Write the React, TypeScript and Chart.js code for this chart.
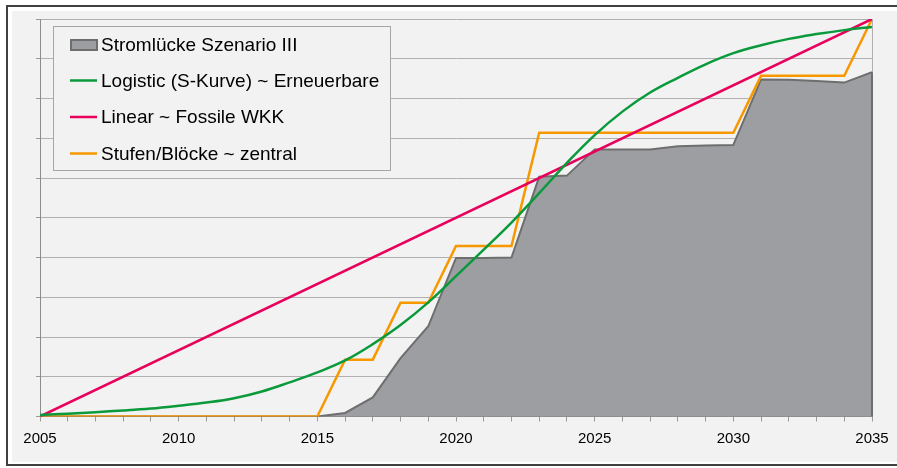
import React, { useEffect, useRef } from "react";
import { Chart, registerables } from "chart.js";

Chart.register(...registerables);

const years = [
  2005, 2006, 2007, 2008, 2009, 2010, 2011, 2012, 2013, 2014, 2015,
  2016, 2017, 2018, 2019, 2020, 2021, 2022, 2023, 2024, 2025,
  2026, 2027, 2028, 2029, 2030, 2031, 2032, 2033, 2034, 2035,
];

const stromluecke = [
  0, 0, 0, 0, 0, 0, 0, 0, 0, 0, 0,
  0.09, 0.48, 1.47, 2.27, 3.99, 3.99, 4.0, 6.03, 6.06, 6.72,
  6.72, 6.72, 6.8, 6.82, 6.83, 8.48, 8.47, 8.44, 8.4, 8.66,
];

const logistic = [
  0.04, 0.07, 0.11, 0.15, 0.2, 0.27, 0.35, 0.46, 0.63, 0.86, 1.11,
  1.41, 1.82, 2.3, 2.87, 3.53, 4.2, 4.88, 5.62, 6.38, 7.08,
  7.67, 8.15, 8.52, 8.86, 9.14, 9.34, 9.5, 9.62, 9.72, 9.8,
];

const linearYears = [2005, 2035];
const linearValues = [0, 10];

const stufen = [
  0, 0, 0, 0, 0, 0, 0, 0, 0, 0, 0,
  1.43, 1.43, 2.86, 2.86, 4.29, 4.29, 4.29, 7.14, 7.14, 7.14,
  7.14, 7.14, 7.14, 7.14, 7.14, 8.57, 8.57, 8.57, 8.57, 10,
];

const seriesLabels = [
  "Stromlücke Szenario III",
  "Logistic (S-Kurve) ~ Erneuerbare",
  "Linear ~ Fossile WKK",
  "Stufen/Blöcke ~ zentral",
];

const GREY_FILL = "#9d9ea2";
const GREY_LINE = "#6e6e6e";
const GREEN = "#0a9a3c";
const RED = "#e8005a";
const ORANGE = "#f79800";
const FONT = "'Liberation Sans', Arial, sans-serif";

const pts = (xs: number[], ys: number[]) => xs.map((x, i) => ({ x, y: ys[i] }));

const framePlugin = {
  id: "frame",
  beforeDraw(chart: any) {
    const ctx = chart.ctx;
    ctx.save();
    ctx.fillStyle = "#ffffff";
    ctx.fillRect(0, 0, chart.width, chart.height);
    ctx.strokeStyle = "#404040";
    ctx.lineWidth = 2;
    ctx.strokeRect(7, 6, 900, 459);
    ctx.fillStyle = "#f2f2f2";
    ctx.fillRect(12, 11, 890, 451);
    ctx.restore();
  },
};

const edgePlugin = {
  id: "edge",
  afterDatasetsDraw(chart: any) {
    const ctx = chart.ctx;
    const x = chart.scales.x;
    const y = chart.scales.y;
    const px = x.getPixelForValue(years[years.length - 1]);
    const py = y.getPixelForValue(stromluecke[stromluecke.length - 1]);
    ctx.save();
    ctx.strokeStyle = GREY_LINE;
    ctx.lineWidth = 2;
    ctx.beginPath();
    ctx.moveTo(px, py);
    ctx.lineTo(px, y.getPixelForValue(0));
    ctx.stroke();
    ctx.restore();
  },
};

const legendPlugin = {
  id: "boxLegend",
  afterDraw(chart: any) {
    const ctx = chart.ctx;
    ctx.save();
    ctx.fillStyle = "#f2f2f2";
    ctx.fillRect(53, 26, 338, 145);
    ctx.strokeStyle = "#a6a6a6";
    ctx.lineWidth = 1;
    ctx.strokeRect(53.5, 26.5, 337, 144);
    const rows = [45, 80.5, 117, 153.5];
    const colors = [null, GREEN, RED, ORANGE];
    rows.forEach((ry, i) => {
      if (i === 0) {
        ctx.fillStyle = GREY_FILL;
        ctx.fillRect(71, 40, 26, 10);
        ctx.strokeStyle = GREY_LINE;
        ctx.lineWidth = 2;
        ctx.strokeRect(71, 40, 26, 10);
      } else {
        ctx.strokeStyle = colors[i] as string;
        ctx.lineWidth = 2.5;
        ctx.beginPath();
        ctx.moveTo(70, ry);
        ctx.lineTo(97, ry);
        ctx.stroke();
      }
      ctx.fillStyle = "#000000";
      ctx.font = `19px ${FONT}`;
      ctx.textBaseline = "middle";
      ctx.textAlign = "left";
      ctx.fillText(seriesLabels[i], 101, ry + 1);
    });
    ctx.restore();
  },
};

export default function App() {
  const canvasRef = useRef<HTMLCanvasElement | null>(null);

  useEffect(() => {
    if (!canvasRef.current) return;
    const chart = new Chart(canvasRef.current, {
      type: "line",
      data: {
        datasets: [
          {
            label: seriesLabels[0],
            data: pts(years, stromluecke),
            backgroundColor: GREY_FILL,
            borderColor: GREY_LINE,
            borderWidth: 2,
            fill: "origin",
            pointRadius: 0,
            tension: 0,
            order: 4,
          },
          {
            label: seriesLabels[3],
            data: pts(years, stufen),
            borderColor: ORANGE,
            borderWidth: 2.5,
            fill: false,
            pointRadius: 0,
            tension: 0,
            order: 3,
          },
          {
            label: seriesLabels[2],
            data: pts(linearYears, linearValues),
            borderColor: RED,
            borderWidth: 2.5,
            fill: false,
            pointRadius: 0,
            tension: 0,
            order: 2,
          },
          {
            label: seriesLabels[1],
            data: pts(years, logistic),
            borderColor: GREEN,
            borderWidth: 2.5,
            fill: false,
            pointRadius: 0,
            tension: 0.4,
            order: 1,
          },
        ],
      },
      options: {
        animation: false,
        responsive: true,
        maintainAspectRatio: false,
        layout: { padding: { left: 0, right: 25, top: 19, bottom: 0 } },
        plugins: {
          legend: { display: false },
          tooltip: { enabled: false },
        },
        scales: {
          x: {
            type: "linear",
            min: 2005,
            max: 2035,
            afterFit: (s: any) => {
              s.height = 51.5;
            },
            ticks: {
              stepSize: 1,
              autoSkip: false,
              maxRotation: 0,
              padding: 8,
              color: "#000000",
              font: { family: FONT, size: 15 },
              callback: (v: any) => (Number(v) % 5 === 0 ? String(v) : ""),
            },
            grid: {
              drawOnChartArea: true,
              color: (c: any) =>
                c.tick && c.tick.value === 2035 ? "#b0b0b0" : "rgba(0,0,0,0)",
              tickColor: "#9a9a9a",
              tickLength: 5,
            },
            border: { display: true, color: "#8c8c8c", width: 1 },
          },
          y: {
            type: "linear",
            min: 0,
            max: 10,
            afterFit: (s: any) => {
              s.width = 40;
            },
            ticks: { stepSize: 1, display: false },
            grid: {
              color: (c: any) =>
                c.tick && c.tick.value === 0 ? "rgba(0,0,0,0)" : "#b0b0b0",
              tickColor: "#9a9a9a",
              tickLength: 4,
            },
            border: { display: true, color: "#8c8c8c", width: 1 },
          },
        },
      },
      plugins: [framePlugin, edgePlugin, legendPlugin],
    } as any);
    return () => chart.destroy();
  }, []);

  return (
    <div style={{ position: "absolute", left: 0, top: 0, width: 897, height: 468 }}>
      <canvas ref={canvasRef} />
    </div>
  );
}
